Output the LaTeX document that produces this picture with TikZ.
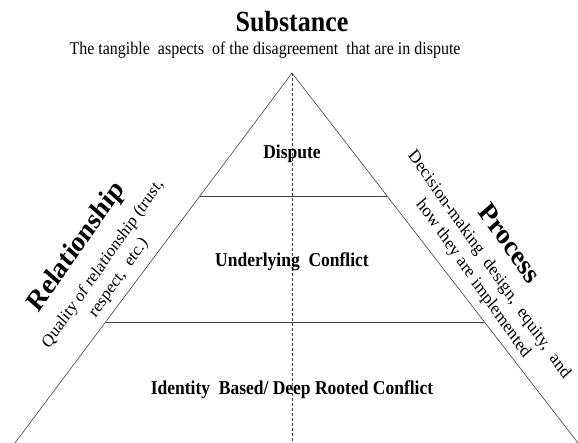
\documentclass[tikz,border=0pt]{standalone}
\usepackage{fontspec}
\setmainfont{Liberation Serif}
\usetikzlibrary{calc}

\begin{document}
\begin{tikzpicture}[x=1pt,y=1pt]
	\tikzstyle{bord}=[draw=black!75,line width=0.6pt]
	\tikzstyle{niveau}=[font=\bfseries\fontsize{17.5}{20}\selectfont,yscale=1.12]
	\tikzstyle{titre}=[font=\bfseries\fontsize{26}{30}\selectfont,yscale=1.12]
	\tikzstyle{soustitre}=[font=\fontsize{16}{20}\selectfont,align=center,yscale=1.12]

	\useasboundingbox (0,0) rectangle (578,443);

	\coordinate (sommet) at (292,370);
	\coordinate (bg) at (15,0);
	\coordinate (bd) at (578,0);
	\coordinate (base) at (292,0);

	\coordinate (g1) at ($(sommet)!0.3324!(bg)$);
	\coordinate (d1) at ($(sommet)!0.3324!(bd)$);
	\coordinate (g2) at ($(sommet)!0.673!(bg)$);
	\coordinate (d2) at ($(sommet)!0.673!(bd)$);

	\draw[bord] (bg) -- (sommet) -- (bd);
	\draw[bord] (g1) -- (d1);
	\draw[bord] (g2) -- (d2);
	\draw[draw=black!75,line width=0.6pt,dash pattern=on 3pt off 2pt] (sommet) -- (base);

	\node[titre] (substance) at (292,421) {Substance};
	\node[soustitre] (tangible) at (265,393) {The tangible\ \ aspects\ \ of the disagreement\ \ that are in dispute};

	\node[niveau] (dispute) at (292,289) {Dispute};
	\node[niveau] (sousjacent) at (292,181) {Underlying\ \ Conflict};
	\node[niveau] (identite) at (292,53) {Identity\ \ Based/ Deep Rooted Conflict};

	\node[titre,rotate=52] (relation) at (77,196) {Relationship};
	\node[soustitre,rotate=52] (qualite) at (111,172) {Quality of relationship (trust,\\respect,\ \ etc.)};

	\node[titre,rotate=-52] (processus) at (510,200) {Process};
	\node[soustitre,rotate=-52,font=\fontsize{16.5}{20}\selectfont] (decision) at (481,171) {Decision-making\ \ design,\ \ equity,\ \ and\\how they are implemented};
\end{tikzpicture}
\end{document}
